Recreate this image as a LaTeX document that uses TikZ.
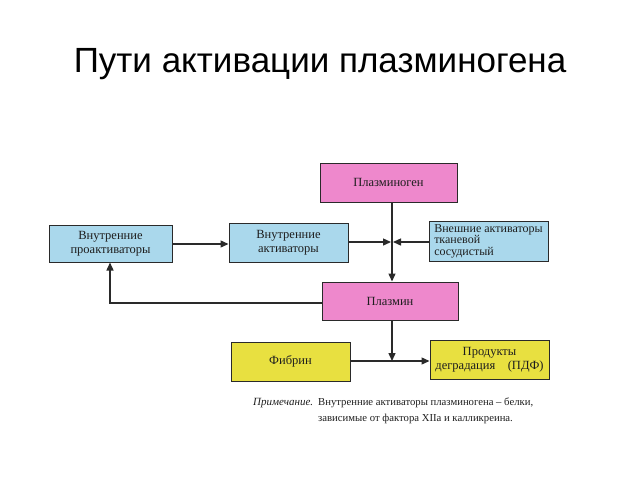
\documentclass[tikz,border=0pt]{standalone}
\usepackage{fontspec}
\setmainfont{Liberation Serif}
\newfontfamily\titlefont{Liberation Sans}
\usetikzlibrary{arrows.meta}
\definecolor{pinkbox}{HTML}{EE88CC}
\definecolor{bluebox}{HTML}{AAD8EC}
\definecolor{yellowbox}{HTML}{E8E040}
\definecolor{edge}{HTML}{2A2A2A}
\definecolor{txt}{HTML}{1E1E1E}
\begin{document}
\begin{tikzpicture}[x=1pt,y=-1pt,
  box/.style={draw=edge,line width=1pt,inner sep=0pt,text=txt,font=\fontsize{12.5}{14}\selectfont,align=center},
  conn/.style={draw=edge,line width=1.4pt},
  tip/.style={-{Triangle[length=8pt,width=7pt]}}]
\useasboundingbox (0,0) rectangle (640,480);
\node[font=\titlefont\fontsize{35}{38}\selectfont] (title) at (320,64) {Пути активации плазминогена};
\node[box,fill=pinkbox,minimum width=137pt,minimum height=39pt] (plg) at (388.5,182.5) {Плазминоген};
\node[box,fill=bluebox,minimum width=123pt,minimum height=37pt] (pro) at (110.5,243.5) {Внутренние\\проактиваторы};
\node[box,fill=bluebox,minimum width=119pt,minimum height=39pt] (act) at (288.5,242.5) {Внутренние\\активаторы};
\node[box,fill=bluebox,minimum width=119pt,minimum height=40pt,align=left,font=\fontsize{12}{11.5}\selectfont] (ext) at (488.5,241) {Внешние активаторы\\тканевой\\сосудистый};
\node[box,fill=pinkbox,minimum width=136pt,minimum height=38pt] (pl) at (390,301) {Плазмин};
\node[box,fill=yellowbox,minimum width=119pt,minimum height=39pt] (fib) at (290.5,361.5) {Фибрин};
\node[box,fill=yellowbox,minimum width=119pt,minimum height=39pt] (pdf) at (489.5,359.5) {Продукты\\деградация\quad(ПДФ)};
\coordinate (j1) at (392,242);
\coordinate (j2) at (392,361);
\coordinate (c1) at (110,303);
\draw[conn,tip] (plg.south -| j1) -- (pl.north -| j1);
\draw[conn,tip] (act.east |- j1) -- ([xshift=-1pt]j1);
\draw[conn,tip] (ext.west |- j1) -- ([xshift=1pt]j1);
\draw[conn,tip] (pro.east |- 0,244) -- (act.west |- 0,244);
\draw[conn,tip] (pl.west |- c1) -- (c1) -- (pro.south -| c1);
\draw[conn,tip] (pl.south -| j2) -- (j2);
\draw[conn,tip] (fib.east |- j2) -- (pdf.west |- j2);
\node[anchor=base west,text=txt,font=\fontsize{11}{12}\selectfont\itshape,inner sep=0pt] (note) at (253,405) {Примечание.};
\node[anchor=base west,text=txt,font=\fontsize{10.7}{12}\selectfont,inner sep=0pt] (notetext) at (318,405) {Внутренние активаторы плазминогена -- белки,};
\node[anchor=base west,text=txt,font=\fontsize{10.7}{12}\selectfont,inner sep=0pt] (notetext2) at (318,421) {зависимые от фактора XIIa и калликреина.};
\end{tikzpicture}
\end{document}
